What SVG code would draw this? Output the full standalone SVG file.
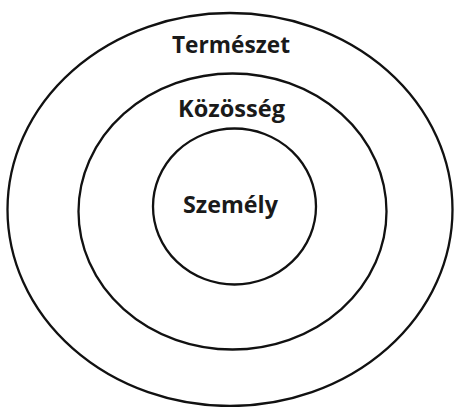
<svg xmlns="http://www.w3.org/2000/svg" width="454" height="407" viewBox="0 0 454 407">
<style>
.ring{fill:none;stroke:#111;stroke-width:2.3}
.lbl{font-family:"Open Sans","Liberation Sans",sans-serif;font-weight:bold;font-size:23px;fill:#1a1a1a;text-anchor:middle}
</style>
<rect width="454" height="407" fill="#fff"/>
<g id="termeszet">
<ellipse class="ring" cx="230" cy="209.5" rx="222.5" ry="196.5"/>
<text class="lbl" x="231" y="52.5" textLength="118" lengthAdjust="spacingAndGlyphs">Természet</text>
</g>
<g id="kozosseg">
<ellipse class="ring" cx="232.5" cy="211.5" rx="154" ry="138"/>
<text class="lbl" x="231.5" y="117" textLength="107" lengthAdjust="spacingAndGlyphs">Közösség</text>
</g>
<g id="szemely">
<ellipse class="ring" cx="234.5" cy="206.5" rx="81.5" ry="78"/>
<text class="lbl" x="230.5" y="213" textLength="95" lengthAdjust="spacingAndGlyphs">Személy</text>
</g>
<g id="connectors"/>
</svg>
